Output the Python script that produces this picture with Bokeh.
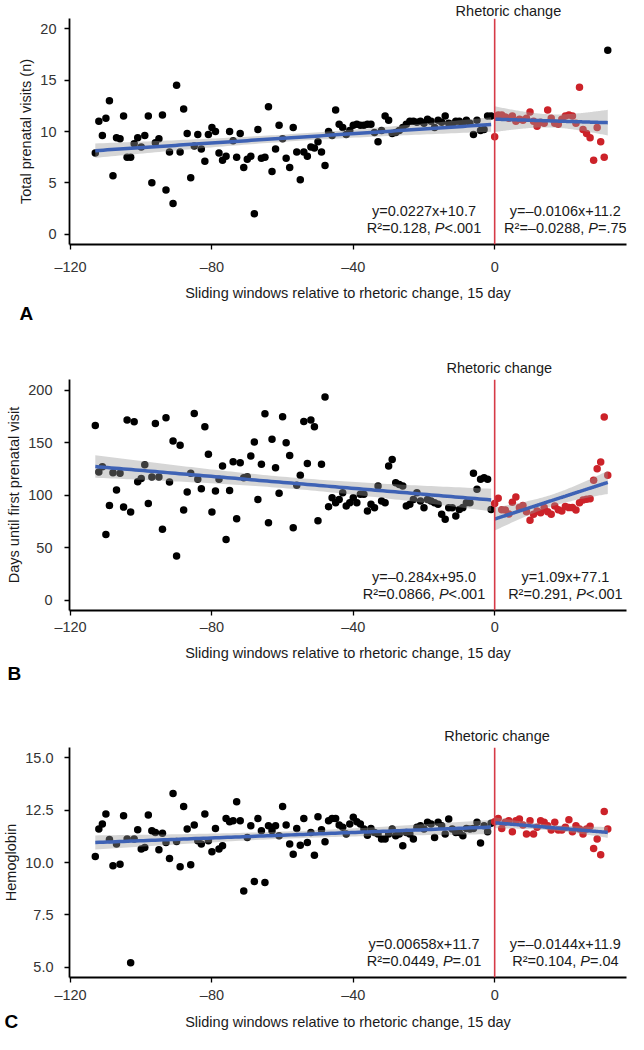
import math
import numpy as np
from bokeh.plotting import figure
from bokeh.models import Label, Span, FixedTicker, Range1d, Title
from bokeh.layouts import column
from bokeh.embed import file_html
from bokeh.resources import INLINE

# ---------------- data ----------------
X_TICKS = [-120, -80, -40, 0]
X_TICK_LABELS = ["–120", "–80", "–40", "0"]
X_LABEL = "Sliding windows relative to rhetoric change, 15 day"
VLINE_LABEL = "Rhetoric change"

# Panel A: total prenatal visits
A_pre_y = [7.9, 11.0, 9.6, 11.3, 13.0, 5.7, 9.4, 9.3, 11.5, 7.5,
           7.5, 8.8, 9.4, 8.5, 9.6, 11.5, 5.0, 8.9, 9.3, 11.6,
           4.3, 8.0, 3.0, 14.5, 8.0, 12.2, 9.8, 5.5, 8.6, 9.7,
           8.3, 7.1, 9.7, 10.4, 10.0, 7.9, 7.2, 7.6, 10.0, 9.1,
           7.5, 9.8, 6.5, 7.3, 7.6, 2.0, 10.2, 7.4, 7.5, 12.4,
           6.1, 8.3, 10.6, 9.3, 7.4, 6.5, 10.4, 8.0, 5.3, 8.0,
           7.6, 8.5, 8.4, 9.0, 8.0, 6.7, 10.0, 9.6, 12.1, 10.7,
           10.4, 9.7, 10.1, 10.6, 10.7, 10.6, 10.6, 10.7, 10.7, 9.9,
           9.0, 10.1, 11.5, 11.1, 9.8, 9.9, 10.1, 10.4, 10.7, 11.0,
           11.0, 10.9, 11.0, 10.8, 11.2, 11.0, 10.4, 11.1, 10.9, 11.5,
           10.8, 10.7, 11.0, 11.0, 10.7, 11.1, 10.8, 9.7, 11.1, 10.1,
           10.2, 11.5, 11.5]
A_post_y = [9.5, 11.6, 11.6, 11.4, 11.3, 11.5, 11.0, 11.2, 11.1, 11.3,
            11.9, 11.0, 10.5, 10.9, 10.8, 12.1, 11.3, 10.8, 10.7, 11.2,
            11.5, 11.6, 11.5, 10.8, 14.3, 10.2, 9.8, 9.4, 7.2, 10.4,
            9.0, 7.5]
A_post_black_x = [32]
A_post_black_y = [17.9]
A_fit = [(0.0227, 10.7), (-0.0106, 11.2)]
A_eq = [("y=0.0227x+10.7", "R²=0.128, ", "P", "<.001"),
        ("y=–0.0106x+11.2", "R²=–0.0288, ", "P", "=.75")]
A_yticks = [0, 5, 10, 15, 20]
A_ytick_labels = ["0", "5", "10", "15", "20"]
A_ylabel = "Total prenatal visits (n)"

# Panel B: days until first prenatal visit
B_pre_y = [166.3, 121.9, 127.0, 62.5, 90.1, 121.2, 104.7, 120.6, 88.5, 171.4,
           83.8, 169.8, 112.7, 115.8, 128.9, 92.0, 117.1, 168.2, 117.1, 67.3,
           173.6, 112.4, 151.4, 41.9, 147.3, 85.7, 102.8, 120.6, 177.7, 114.9,
           106.0, 165.0, 138.7, 83.8, 103.8, 114.9, 127.6, 57.7, 104.4, 131.7,
           77.4, 130.8, 116.5, 117.4, 137.1, 150.4, 95.8, 129.2, 177.4, 73.6,
           153.0, 126.0, 101.6, 174.6, 149.8, 137.7, 68.9, 109.2, 118.7, 170.1,
           130.0, 171.4, 165.0, 75.5, 129.2, 193.3, 88.9, 97.4, 92.7,
           95.8, 102.2, 89.5, 92.7, 97.4, 92.7, 100.6, 100.6, 84.7, 91.1,
           87.9, 108.5, 94.2, 92.7, 127.6, 133.9, 111.7, 110.0, 108.5, 89.5,
           91.1, 95.8, 102.2, 94.2, 87.9, 95.8, 94.2, 92.7, 91.1, 81.6,
           76.8, 87.9, 87.9, 79.9, 86.3, 88.0, 92.7, 92.7, 120.6, 105.4,
           114.9, 116.5, 115.0, 86.3]
B_post_y = [92.0, 96.8, 86.0, 85.7, 82.0, 93.0, 98.0, 88.0, 90.0, 84.0,
            76.0, 81.6, 84.8, 83.0, 88.0, 84.0, 81.6, 89.5, 86.0, 84.8,
            89.0, 88.0, 88.0, 85.7, 92.7, 95.2, 96.0, 96.5, 114.0, 125.0,
            131.4, 174.3, 118.7]
B_post_black_x = []
B_post_black_y = []
B_fit = [(-0.284, 95.0), (1.09, 77.1)]
B_eq = [("y=–0.284x+95.0", "R²=0.0866, ", "P", "<.001"),
        ("y=1.09x+77.1", "R²=0.291, ", "P", "<.001")]
B_yticks = [0, 50, 100, 150, 200]
B_ytick_labels = ["0", "50", "100", "150", "200"]
B_ylabel = "Days until first prenatal visit"

# Panel C: hemoglobin
C_pre_y = [10.29, 11.6, 11.84, 12.32, 11.1, 9.84, 10.88, 9.92, 12.24, 11.12,
           5.2, 11.12, 11.57, 10.64, 10.72, 12.27, 11.52, 11.44, 10.61, 11.4,
           10.96, 10.19, 13.3, 11.0, 9.8, 12.68, 11.6, 9.89, 11.79, 11.04,
           10.88, 12.32, 11.04, 10.51, 11.63, 10.64, 10.8, 12.1, 11.95, 12.0,
           12.9, 12.0, 8.64, 11.2, 11.76, 9.09, 12.1, 11.52, 9.04, 11.76,
           11.52, 11.76, 11.28, 12.68, 11.79, 10.88, 10.4, 11.63, 10.83, 12.1,
           10.96, 11.44, 10.35, 12.19, 11.57, 10.99, 12.0, 12.1, 12.1, 11.79,
           11.68, 11.36, 11.84, 12.16, 11.95, 11.84, 11.6, 11.3, 11.63, 11.44,
           11.36, 11.12, 11.12, 11.36, 11.6, 11.28, 11.36, 10.8, 11.44, 11.36,
           11.12, 11.68, 11.76, 11.6, 11.92, 11.84, 11.2, 11.92, 11.76, 11.36,
           12.08, 11.6, 11.44, 11.44, 11.28, 11.63, 11.6, 11.63, 11.92, 10.93,
           11.76, 11.47, 11.88]
C_post_y = [11.95, 12.1, 11.63, 11.92, 12.0, 11.47, 12.0, 12.08, 11.79, 11.36,
            12.0, 11.36, 11.68, 12.0, 11.92, 11.76, 11.55, 11.92, 11.55, 11.55,
            11.68, 12.04, 11.47, 11.76, 11.6, 11.36, 11.6, 11.73, 10.67, 11.12,
            10.37, 12.44, 11.6]
C_post_black_x = []
C_post_black_y = []
C_fit = [(0.00658, 11.7), (-0.0144, 11.9)]
C_eq = [("y=0.00658x+11.7", "R²=0.0449, ", "P", "=.01"),
        ("y=–0.0144x+11.9", "R²=0.104, ", "P", "=.04")]
C_yticks = [5.0, 7.5, 10.0, 12.5, 15.0]
C_ytick_labels = ["5.0", "7.5", "10.0", "12.5", "15.0"]
C_ylabel = "Hemoglobin"

# ---------------- style ----------------
FONT = "Liberation Sans"
FS = 14.5
FSS = "14.5px"
TXT = "#1a1a1a"
RED = "#cc2229"
VLINE = "#d63a47"
BLUE = "#3e62b5"
XR = (-120.3, 37.3)
FIG_W = 628
BORDER_R = 2

# Arial/Liberation Sans advance widths (per 1000 em)
WID = {**{d: 556 for d in "0123456789"}, ".": 278, ",": 278, " ": 278, "=": 584,
       "<": 584, "R": 722, "²": 333, "P": 667, "–": 556, "y": 500, "x": 500, "+": 584,
       "h": 556, "e": 556, "t": 278, "o": 556, "r": 333, "i": 222, "c": 500,
       "a": 556, "n": 556, "g": 556}


def tw(s):
    return sum(WID.get(c, 556) for c in s) * FS / 1000.0


def band(xs, ys, slope, intercept):
    xs = np.asarray(xs, float)
    ys = np.asarray(ys, float)
    n = len(xs)
    resid = ys - (slope * xs + intercept)
    s = math.sqrt(float(np.sum(resid ** 2)) / (n - 2))
    xbar = xs.mean()
    sxx = float(np.sum((xs - xbar) ** 2))
    z = 1.959964
    t = z + (z ** 3 + z) / (4 * (n - 2))
    g = np.linspace(xs.min(), xs.max(), 100)
    fit = slope * g + intercept
    se = s * np.sqrt(1.0 / n + (g - xbar) ** 2 / sxx)
    return g, fit, fit - t * se, fit + t * se


def lab(p, **kw):
    kw.setdefault("text_font", FONT)
    kw.setdefault("text_font_size", FSS)
    kw.setdefault("text_color", TXT)
    p.add_layout(Label(**kw))


def panel(pre_y, post_y, pb_x, pb_y, fits, eqs, yticks, ytl, ylim, ylabel, letter, geo):
    left, top, height, bottom, ystand, xstand, xlstand, title_st, letter_st = geo
    p = figure(width=FIG_W, height=height, x_range=Range1d(*XR), y_range=Range1d(*ylim),
               output_backend="svg", toolbar_location=None, title=None,
               min_border_left=left, min_border_right=BORDER_R, min_border_top=top,
               min_border_bottom=bottom)
    p.outline_line_color = None
    p.grid.visible = False
    p.background_fill_color = "white"
    p.border_fill_color = "white"

    pre_x = list(range(-len(pre_y), 0))
    post_x = list(range(0, len(post_y)))

    # points
    p.scatter(pre_x, pre_y, size=7.5, color="black", line_color=None)
    p.scatter(post_x, post_y, size=7.5, color=RED, line_color=None)
    if pb_x:
        p.scatter(pb_x, pb_y, size=7.5, color="black", line_color=None)

    # fits + bands
    groups = [(pre_x, pre_y), (post_x + list(pb_x), list(post_y) + list(pb_y))]
    for (gx, gy), (sl, ic) in zip(groups, fits):
        g, f, lo, hi = band(gx, gy, sl, ic)
        p.varea(x=g, y1=lo, y2=hi, fill_color="#999999", fill_alpha=0.4)
    for (gx, gy), (sl, ic) in zip(groups, fits):
        g, f, lo, hi = band(gx, gy, sl, ic)
        p.line(g, f, line_color=BLUE, line_width=3.5)

    p.add_layout(Span(location=0, dimension="height", line_color=VLINE, line_width=1.6))

    # axes
    for ax in (p.xaxis[0], p.yaxis[0]):
        ax.axis_line_color = "black"
        ax.axis_line_width = 1.8
        ax.major_tick_line_color = "black"
        ax.major_tick_line_width = 1.3
        ax.major_tick_out = 5
        ax.major_tick_in = 0
        ax.minor_tick_line_color = None
        ax.major_label_text_font = FONT
        ax.major_label_text_font_size = FSS
        ax.major_label_text_color = "#333333"
        ax.axis_label_text_font = FONT
        ax.axis_label_text_font_size = FSS
        ax.axis_label_text_font_style = "normal"
        ax.axis_label_text_color = TXT
    p.xaxis.ticker = FixedTicker(ticks=X_TICKS)
    p.xaxis.major_label_overrides = {k: v for k, v in zip(X_TICKS, X_TICK_LABELS)}
    p.xaxis.major_label_standoff = xstand
    p.xaxis.axis_label = X_LABEL
    p.xaxis.axis_label_standoff = xlstand
    p.yaxis.ticker = FixedTicker(ticks=yticks)
    p.yaxis.major_label_overrides = {k: v for k, v in zip(yticks, ytl)}
    p.yaxis.major_label_standoff = ystand
    p.yaxis.axis_label = ylabel
    p.yaxis.axis_label_standoff = 3

    # "Rhetoric change" above the frame, centred on x = 0
    frame_w = FIG_W - left - BORDER_R
    px0 = (0 - XR[0]) / (XR[1] - XR[0]) * frame_w
    p.add_layout(Title(text=VLINE_LABEL, align="left", offset=px0 - tw(VLINE_LABEL) / 2,
                       text_font=FONT, text_font_size=FSS, text_font_style="normal",
                       text_color=TXT, standoff=title_st, vertical_align="bottom"), "above")

    # panel letter below the x-axis title, at the left edge of the page
    p.add_layout(Title(text=letter, align="left", offset=9 - (8 + left),
                       text_font=FONT, text_font_size="19px", text_font_style="bold",
                       text_color="black", standoff=letter_st, vertical_align="top"), "below")

    y0, y1 = ylim
    # equations
    for cx, (l1, a, b, c) in zip((-20, 20), eqs):
        lab(p, x=cx, y=y0, y_offset=34, text=l1, text_align="center", text_baseline="middle")
        wa, wb, wc = tw(a), tw(b), tw(c)
        start = -(wa + wb + wc) / 2
        lab(p, x=cx, y=y0, y_offset=17, x_offset=start, text=a,
            text_align="left", text_baseline="middle")
        lab(p, x=cx, y=y0, y_offset=17, x_offset=start + wa, text=b,
            text_align="left", text_baseline="middle", text_font_style="italic")
        lab(p, x=cx, y=y0, y_offset=17, x_offset=start + wa + wb, text=c,
            text_align="left", text_baseline="middle")
    return p


# geometry: min_border_left, min_border_top, height, min_border_bottom,
#           y tick-label standoff, x tick-label standoff, x title standoff,
#           "Rhetoric change" standoff, letter standoff
pA = panel(A_pre_y, A_post_y, A_post_black_x, A_post_black_y, A_fit, A_eq,
           A_yticks, A_ytick_labels, (-1, 21), A_ylabel, "A",
           (51, 17, 325, 81, 8, 9, 7, 0, -2))
pB = panel(B_pre_y, B_post_y, B_post_black_x, B_post_black_y, B_fit, B_eq,
           B_yticks, B_ytick_labels, (-10, 210), B_ylabel, "B",
           (63, 54, 360, 75, 12, 3, 7, 8, -2))
pC = panel(C_pre_y, C_post_y, C_post_black_x, C_post_black_y, C_fit, C_eq,
           C_yticks, C_ytick_labels, (4.5, 15.5), C_ylabel, "C",
           (66, 62, 349, 57, 11, 4, 8, 8, -44))

layout = column(pA, pB, pC, spacing=0)
open("out.html", "w").write(file_html(layout, INLINE, "Rhetoric change"))
